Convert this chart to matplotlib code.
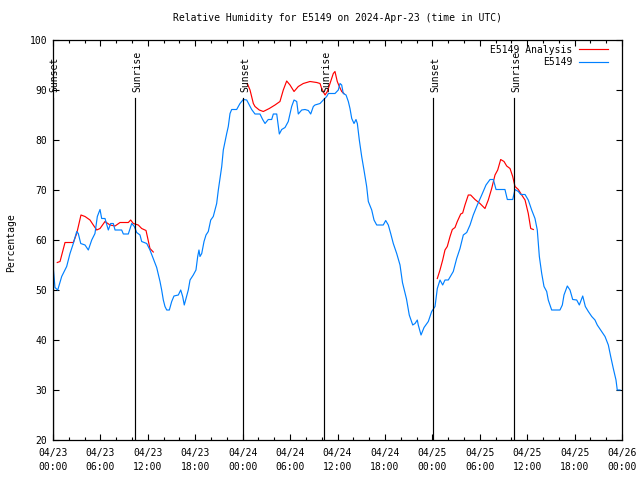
import numpy as np
import pandas as pd
import matplotlib
matplotlib.use('Agg')
import matplotlib.pyplot as plt
import matplotlib.dates as mdates

plt.rcParams['font.family'] = 'DejaVu Sans Mono'
plt.rcParams['font.size'] = 7

start = pd.Timestamp('2024-04-23 00:00')

# station observations (hours since 04/23 00:00 UTC, RH %)
obs_hours = [0.0, 0.25, 0.6, 1.10, 1.73, 2.15, 2.57, 3.00, 3.20, 3.51, 4.05, 4.47, 4.90, 5.31,
             5.61, 5.95, 6.16, 6.58, 7.00, 7.30, 7.63, 7.85, 8.69, 8.90, 9.53, 9.96, 10.29,
             10.59, 11.01, 11.22, 11.86, 12.27, 12.69, 13.12, 13.54, 13.75, 13.96, 14.17,
             14.39, 14.72, 15.02, 15.31, 15.86, 16.16, 16.41, 16.61, 16.83, 17.12, 17.34,
             17.75, 18.09, 18.31, 18.47, 18.60, 18.82, 19.11, 19.36, 19.65, 19.96, 20.28,
             20.71, 20.92, 21.35, 21.55, 21.98, 22.18, 22.40, 22.61, 23.24, 23.66, 24.08,
             24.51, 24.84, 25.14, 25.56, 26.19, 26.53, 26.83, 27.24, 27.67, 27.88, 28.31,
             28.64, 28.94, 29.36, 29.77, 30.20, 30.50, 30.84, 31.04, 31.47, 31.89, 32.31,
             32.61, 32.94, 33.15, 33.79, 34.20, 34.63, 34.84, 35.68, 36.10, 36.32, 36.53,
             36.73, 37.08, 37.37, 37.58, 37.80, 38.09, 38.34, 38.51, 38.76, 39.06, 39.35,
             39.69, 39.90, 40.33, 40.62, 40.96, 41.79, 42.10, 42.43, 42.73, 43.06, 43.49,
             43.91, 44.22, 44.73, 45.08, 45.52, 45.81, 46.10, 46.22, 46.57, 46.95, 47.49,
             47.92, 48.34, 48.63, 48.97, 49.31, 49.60, 50.02, 50.65, 51.08, 51.50, 51.92,
             52.35, 52.77, 53.18, 53.69, 54.25, 54.79, 55.30, 55.72, 56.06, 57.19, 57.49,
             58.17, 58.46, 58.88, 59.18, 59.73, 60.14, 60.57, 60.99, 61.28, 61.54, 61.84,
             62.13, 62.47, 62.67, 63.10, 64.15, 64.45, 64.66, 65.08, 65.42, 65.76, 66.27,
             66.60, 67.03, 67.36, 67.74, 68.17, 68.58, 68.87, 69.30, 69.85, 70.27, 70.57,
             70.90, 71.24, 71.40, 71.75]
obs_rh = [55.0, 50.5, 50.0, 52.7, 54.7, 57.3, 59.3, 61.7, 61.3, 59.3, 59.0, 58.0, 60.0, 61.3,
          64.7, 66.1, 64.3, 64.3, 62.0, 63.3, 63.3, 62.0, 62.0, 61.2, 61.2, 63.3, 62.7,
          61.5, 61.0, 59.7, 59.3, 58.0, 56.3, 54.5, 51.7, 50.0, 48.0, 46.7,
          46.0, 46.0, 47.7, 48.8, 49.0, 50.0, 48.7, 47.0, 48.3, 50.0, 52.0,
          53.0, 54.0, 56.7, 58.0, 56.7, 57.3, 59.7, 61.0, 61.7, 64.0, 64.7,
          67.3, 70.0, 74.7, 78.0, 81.3, 82.7, 85.3, 86.1, 86.1, 87.3, 88.1,
          88.0, 87.0, 86.1, 85.2, 85.2, 84.1, 83.3, 84.1, 84.1, 85.2, 85.2,
          81.2, 82.1, 82.5, 83.7, 86.7, 88.0, 87.7, 85.2, 86.0, 86.1, 85.9,
          85.2, 86.7, 87.0, 87.3, 88.0, 88.7, 89.3, 89.3, 90.0, 91.3, 91.0,
          89.3, 89.0, 87.7, 86.3, 84.3, 83.3, 84.1, 83.3, 80.0, 76.7, 74.0,
          70.7, 67.7, 66.0, 64.0, 63.0, 63.0, 63.9, 63.0, 61.3, 59.3, 57.3,
          55.0, 51.5, 48.2, 45.0, 43.0, 43.3, 44.0, 43.0, 41.0, 42.5, 43.7,
          45.7, 46.7, 50.3, 52.0, 51.0, 52.0, 52.0, 53.7, 56.3, 58.3, 61.0,
          61.5, 63.0, 65.0, 67.0, 69.0, 71.0, 72.1, 72.1, 70.1, 70.1, 68.1,
          68.1, 70.1, 69.7, 69.1, 69.1, 68.0, 66.0, 64.3, 62.0, 56.7, 53.3,
          50.7, 49.7, 48.0, 46.0, 46.0, 47.0, 49.0, 50.8, 50.0, 48.1, 48.0,
          47.0, 48.8, 46.7, 45.7, 44.7, 44.0, 43.0, 42.0, 40.7, 39.0, 36.7,
          34.3, 32.0, 30.0, 30.0]

# analysis, three daytime pieces
ana1_hours = [0.54, 0.89, 1.52, 2.57, 3.00, 3.54, 4.05, 4.68, 5.10, 5.53, 5.95, 6.58, 7.21,
              7.85, 8.48, 9.53, 9.83, 10.16, 10.79, 11.22, 11.77, 12.27, 12.69]
ana1_rh = [55.5, 55.7, 59.5, 59.5, 61.3, 65.0, 64.7, 64.0, 63.0, 62.0, 62.3, 63.7, 63.0,
           62.8, 63.5, 63.5, 64.0, 63.3, 63.0, 62.3, 61.9, 58.3, 57.6]
ana2_hours = [24.59, 24.93, 25.35, 25.56, 26.10, 26.61, 27.37, 28.09, 28.72, 29.14, 29.57,
              29.99, 30.50, 31.04, 31.67, 32.52, 33.37, 33.79, 34.00, 34.42, 34.71, 35.05,
              35.47, 35.68, 35.97, 36.23, 36.53, 36.82]
ana2_rh = [91.3, 90.0, 87.3, 86.7, 86.0, 85.7, 86.3, 87.0, 87.7, 90.0, 91.8,
           91.0, 89.7, 90.7, 91.3, 91.7, 91.5, 91.3, 90.3, 89.0, 89.7, 91.3,
           93.3, 93.7, 91.7, 90.7, 89.7, 89.3]
ana3_hours = [48.63, 48.97, 49.31, 49.60, 49.89, 50.24, 50.53, 50.87, 51.16, 51.59, 51.84,
              52.13, 52.55, 52.85, 53.40, 54.03, 54.66, 55.08, 55.51, 55.93, 56.27, 56.65,
              57.07, 57.41, 57.83, 58.17, 58.46, 58.88, 59.31, 59.73, 60.14, 60.45, 60.78]
ana3_rh = [52.3, 54.0, 56.0, 58.0, 58.7, 60.7, 62.1, 62.5, 63.7, 65.2, 65.4,
           67.0, 69.0, 69.0, 68.1, 67.3, 66.3, 68.0, 70.3, 73.0, 74.0, 76.1,
           75.7, 74.8, 74.3, 72.7, 70.7, 70.1, 69.0, 68.0, 65.3, 62.3, 62.1]

sunset_hours = [0.03, 24.08, 48.13]
sunrise_hours = [10.42, 34.33, 58.38]

tick_hours = list(range(0, 73, 6))
tick_labels = ['04/23\n00:00', '04/23\n06:00', '04/23\n12:00', '04/23\n18:00',
               '04/24\n00:00', '04/24\n06:00', '04/24\n12:00', '04/24\n18:00',
               '04/25\n00:00', '04/25\n06:00', '04/25\n12:00', '04/25\n18:00',
               '04/26\n00:00']


def to_time(hours):
    return start + pd.to_timedelta(np.asarray(hours), unit='h')


fig = plt.figure(figsize=(6.4, 4.8), dpi=100)
ax = fig.add_axes([53 / 640, 40 / 480, 569 / 640, 400 / 480])

red = '#ff0000'
blue = '#0080ff'
lw = 0.85
ax.plot(to_time(ana1_hours), ana1_rh, color=red, lw=lw, label='E5149 Analysis')
ax.plot(to_time(ana2_hours), ana2_rh, color=red, lw=lw)
ax.plot(to_time(ana3_hours), ana3_rh, color=red, lw=lw)
ax.plot(to_time(obs_hours), obs_rh, color=blue, lw=lw, label='E5149')

# sunrise / sunset markers
for name, hrs in [('Sunset', sunset_hours), ('Sunrise', sunrise_hours)]:
    for t in to_time(hrs):
        ax.plot([t, t], [20, 88.3], color='black', lw=lw)
        ax.text(t + pd.Timedelta(minutes=12), 89.5, name, rotation=90,
                ha='center', va='bottom', fontsize=7)

ax.set_xlim(start, start + pd.Timedelta(hours=72))
ax.set_ylim(20, 100)
ax.set_yticks(range(20, 101, 10))
ax.set_xticks(to_time(tick_hours))
labels = ax.set_xticklabels(tick_labels)
for lbl in labels:
    lbl.set_linespacing(1.45)
ax.xaxis.set_minor_locator(mdates.HourLocator(byhour=range(0, 24, 2)))
ax.tick_params(which='both', direction='in', top=True, right=True, width=0.8)
ax.tick_params(which='major', length=4)
ax.tick_params(which='minor', length=2)
ax.tick_params(axis='x', pad=6)
ax.tick_params(axis='y', pad=4)
for s in ax.spines.values():
    s.set_linewidth(0.9)

ax.set_title('Relative Humidity for E5149 on 2024-Apr-23 (time in UTC)', pad=14, fontsize=7)
fig.text(11 / 640, 0.495, 'Percentage', rotation=90, ha='center', va='center', fontsize=7)

ax.legend(loc='upper right', bbox_to_anchor=(1 - 9 / 569, 1.0), frameon=False,
          markerfirst=False, handlelength=3.0, handletextpad=0.7, labelspacing=0.25,
          borderpad=0.2, borderaxespad=0.3)

fig.savefig('out.png', dpi=100)
